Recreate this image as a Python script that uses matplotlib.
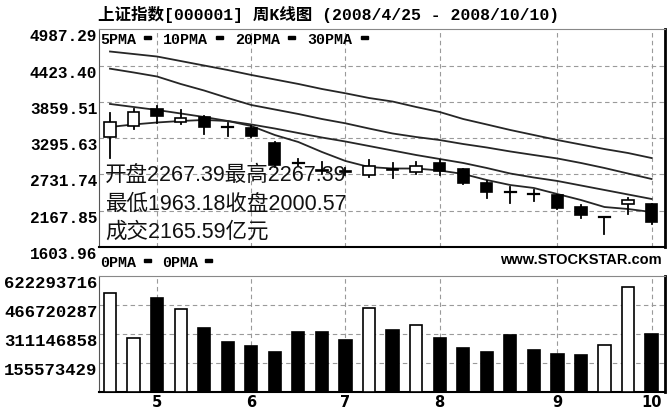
import matplotlib
matplotlib.use('Agg')
import matplotlib.pyplot as plt
from matplotlib.patches import Rectangle
from matplotlib.transforms import ScaledTranslation
import numpy as np

# weekly candles, 2008/4/25 - 2008/10/10
opens = [3310, 3486, 3751, 3553, 3631, 3468, 3450, 3217, 2910, 2800, 2790, 2730,
         2820, 2775, 2906, 2813, 2604, 2455, 2428, 2413, 2222, 2075, 2268, 2267.39]
highs = [3684, 3746, 3797, 3735, 3646, 3528, 3491, 3242, 2968, 2931, 2830, 2950,
         2915, 2931, 2957, 2820, 2635, 2542, 2491, 2420, 2257, 2076, 2371, 2267.39]
lows = [2993, 3440, 3528, 3513, 3357, 3335, 3320, 2849, 2864, 2740, 2720, 2690,
        2673, 2740, 2724, 2584, 2362, 2293, 2324, 2190, 2060, 1806, 2117, 1963.18]
closes = [3544, 3699, 3646, 3615, 3475, 3463, 3335, 2880, 2900, 2785, 2770, 2868,
          2805, 2864, 2791, 2604, 2455, 2445, 2420, 2206, 2102, 2076, 2335, 2000.57]
volumes = [529, 289, 506, 444, 345, 268, 245, 215, 323, 323, 277, 449,
           330, 359, 291, 238, 215, 307, 224, 206, 199, 250, 561, 313]  # 1e6

ma5 = [3471, 3510, 3541, 3564, 3580, 3564, 3486, 3346, 3237, 3082, 2942, 2848,
       2825, 2825, 2794, 2740, 2646, 2568, 2522, 2428, 2335, 2226, 2195, 2148]
ma10 = [3829, 3782, 3735, 3681, 3626, 3564, 3510, 3447, 3377, 3307, 3245, 3175,
        3105, 3035, 2973, 2911, 2833, 2747, 2685, 2631, 2561, 2491, 2421, 2351]
ma20 = [4378, 4319, 4256, 4140, 4038, 3922, 3813, 3743, 3673, 3595, 3528, 3447,
        3370, 3315, 3268, 3206, 3152, 3090, 3035, 2981, 2911, 2833, 2747, 2662]
ma30 = [4645, 4606, 4567, 4497, 4427, 4357, 4280, 4210, 4140, 4062, 3995, 3922,
        3867, 3782, 3704, 3595, 3510, 3424, 3346, 3268, 3198, 3128, 3066, 2988]

price_ticks = [1603.96, 2167.85, 2731.74, 3295.63, 3859.51, 4423.40, 4987.29]
vol_ticks = [155573429, 311146858, 466720287, 622293716]
month_idx = [2, 6, 10, 14, 19, 23]
month_labels = ['5', '6', '7', '8', '9', '10']

W, H = 668, 412
fig = plt.figure(figsize=(W / 100, H / 100), dpi=100)
fig.patch.set_facecolor('white')

def box(l, t, r, b):
    return [l / W, 1 - b / H, (r - l) / W, (b - t) / H]

def ftext(x, y, s, **kw):
    fig.text(x / W, 1 - y / H, s, **kw)

mono = ['Liberation Mono', 'Noto Sans CJK SC', 'DejaVu Sans']
grid_kw = dict(color='#9a9a9a', lw=0.8, ls=(0, (4, 3)))

ax1 = fig.add_axes(box(98.7, 29.5, 665, 247))
ax2 = fig.add_axes(box(98.7, 276, 665, 392))
xs = np.arange(len(closes))
xlim = (-0.48, 23.57)

# price panel
for i in xs:
    o, c = opens[i], closes[i]
    ax1.plot([i, i], [lows[i], highs[i]], color='black', lw=1.3, zorder=3)
    fc = 'white' if c >= o else 'black'
    bh = abs(c - o)
    if bh < 12:
        ax1.plot([i - 0.24, i + 0.24], [o, o], color='black', lw=1.6, zorder=4)
    else:
        ax1.add_patch(Rectangle((i - 0.24, min(o, c)), 0.48, bh, facecolor=fc,
                                edgecolor='black', lw=1.2, zorder=4))
for ma in (ma5, ma10, ma20, ma30):
    ax1.plot(xs, ma, color='#262626', lw=1.3, zorder=2)

ax1.set_xlim(*xlim)
ax1.set_ylim(price_ticks[0], price_ticks[-1])
ax1.set_yticks(price_ticks)
ax1.set_yticklabels(['%.2f' % v for v in price_ticks])
ax1.set_xticks([])
for v in price_ticks[1:-1]:
    ax1.axhline(v, **grid_kw, zorder=1)
for m in month_idx:
    ax1.axvline(m, **grid_kw, zorder=1)

# volume panel
for i in xs:
    fc = 'white' if closes[i] >= opens[i] else 'black'
    ax2.bar(i, volumes[i] * 1e6, width=0.52, color=fc, edgecolor='black', lw=1.2, zorder=3)
ax2.set_xlim(*xlim)
ax2.set_ylim(0, vol_ticks[-1])
ax2.set_yticks(vol_ticks)
ax2.set_yticklabels([str(v) for v in vol_ticks])
ax2.set_xticks(month_idx)
ax2.set_xticklabels(month_labels, fontsize=10.5, fontweight='bold', family='DejaVu Sans')
shift = ScaledTranslation(3 / 100, 0, fig.dpi_scale_trans)
for lab in ax2.get_xticklabels():
    lab.set_transform(lab.get_transform() + shift)
for v in vol_ticks[:-1]:
    ax2.axhline(v, **grid_kw, zorder=1)
for m in month_idx:
    ax2.axvline(m, **grid_kw, zorder=1)

for ax, fs in ((ax1, 11.6), (ax2, 12.4)):
    ax.tick_params(axis='y', length=0, pad=1)
    ax.tick_params(axis='x', length=0, pad=2)
    for lab in ax.get_yticklabels():
        lab.set_family(mono)
        lab.set_fontsize(fs)
        lab.set_fontweight('bold')
        lab.set_va('top')
    ax.spines['top'].set_color('#888888')
    ax.spines['left'].set_color('#555555')
    ax.spines['right'].set_linewidth(2)
    ax.spines['bottom'].set_linewidth(1.5)

# texts
ftext(98, 14, '上证指数[000001] 周K线图 (2008/4/25 - 2008/10/10)', family=mono,
      fontsize=11.9, fontweight='bold', va='center')
for x, s in [(100, '5PMA'), (163, '10PMA'), (235, '20PMA'), (307, '30PMA')]:
    ftext(x, 40, s, family=mono, fontsize=10.8, fontweight='bold', va='center')
for x in (144, 216, 288, 361):
    fig.patches.append(Rectangle((x / W, 1 - 38.5 / H), 7 / W, 3 / H, color='black',
                                 transform=fig.transFigure, figure=fig))
ftext(100, 263, '0PMA', family=mono, fontsize=10.8, fontweight='bold', va='center')
ftext(162, 263, '0PMA', family=mono, fontsize=10.8, fontweight='bold', va='center')
for x in (144, 205):
    fig.patches.append(Rectangle((x / W, 1 - 261.5 / H), 7 / W, 3 / H, color='black',
                                 transform=fig.transFigure, figure=fig))
ftext(662, 260, 'www.STOCKSTAR.com', family='Liberation Sans', fontsize=10.5,
      fontweight='bold', ha='right', va='center')

info = ['开盘2267.39最高2267.39', '最低1963.18收盘2000.57', '成交2165.59亿元']
for y, s in zip((175, 204, 232), info):
    ftext(105, y, s, family=['Liberation Sans', 'Noto Sans CJK SC'], fontsize=15.5,
          va='center', color='#111111')

fig.savefig('out.png', dpi=100, facecolor='white')
